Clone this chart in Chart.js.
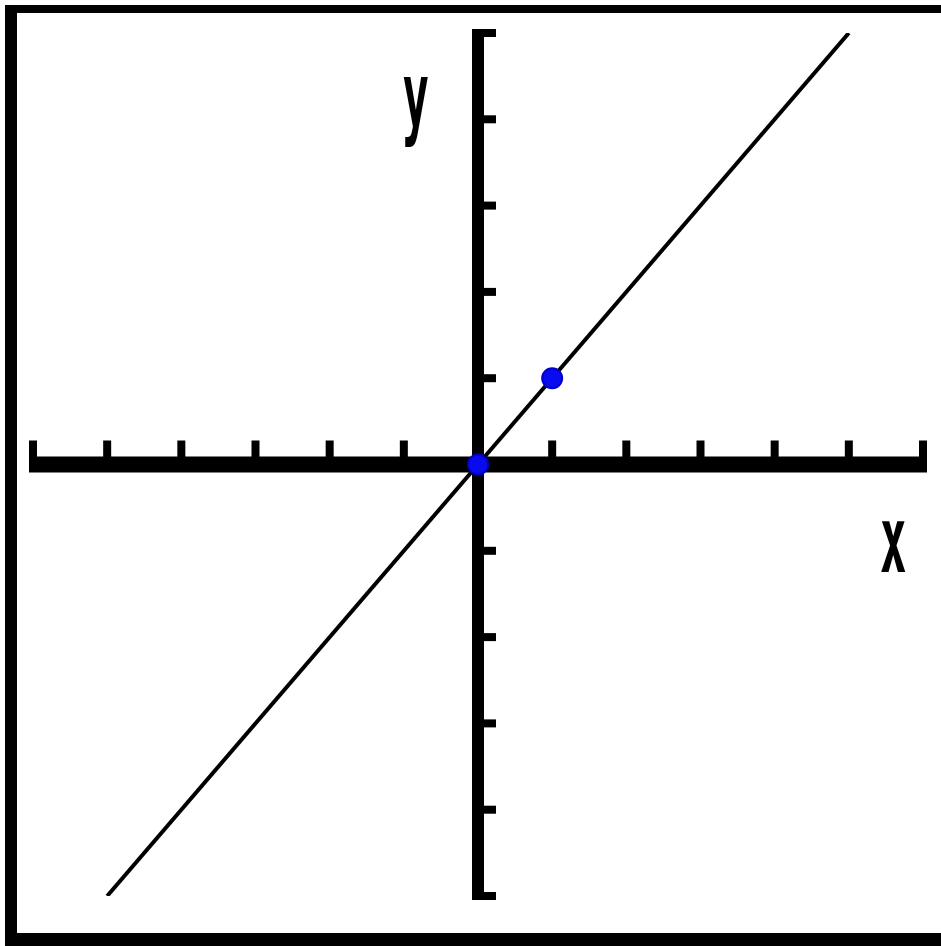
<!DOCTYPE html>
<html>
<head>
<meta charset="utf-8">
<script src="https://cdn.jsdelivr.net/npm/chart.js@4.4.1/dist/chart.umd.min.js"></script>
<style>
  html, body { margin: 0; padding: 0; background: #fff; }
  #wrap { position: relative; width: 941px; height: 946px; }
</style>
</head>
<body>
<div id="wrap"><canvas id="graph"></canvas></div>
<script>
// y = x, drawn from x = -5 to x = 5
const lineX = [-5, 5];
const lineY = [-5, 5];
// the two highlighted points
const dotX = [0, 1];
const dotY = [0, 1];
// tick positions on each axis
const xTicks = [-6, -5, -4, -3, -2, -1, 1, 2, 3, 4, 5, 6];
const yTicks = [-5, -4, -3, -2, -1, 1, 2, 3, 4, 5];
const axisNames = ['x', 'y'];

const axesPlugin = {
    id: 'calcAxes',
    beforeDatasetsDraw(chart) {
        const { ctx, scales: { x, y } } = chart;
        const ox = x.getPixelForValue(0);
        const oy = y.getPixelForValue(0);
        ctx.save();
        ctx.fillStyle = '#000';

        // frame of the calculator screen
        ctx.fillRect(5, 5, 936, 8);
        ctx.fillRect(5, 5, 12, 941);
        ctx.fillRect(5, 933, 936, 13);

        // x axis with ticks pointing up
        const xl = x.getPixelForValue(-6), xr = x.getPixelForValue(6);
        ctx.fillRect(xl - 4, oy - 8, xr - xl + 8, 16);
        xTicks.forEach(v => {
            const px = x.getPixelForValue(v);
            ctx.fillRect(px - 4, oy - 24, 8, 20);
        });

        // y axis with ticks pointing right
        const yt = y.getPixelForValue(5), yb = y.getPixelForValue(-5);
        ctx.fillRect(ox - 6, yt - 4, 12, yb - yt + 8);
        yTicks.forEach(v => {
            const py = y.getPixelForValue(v);
            ctx.fillRect(ox, py - 4, 18, 8);
        });

        // axis letters, tall and narrow like the calculator font
        ctx.font = 'bold 44px "DejaVu Sans Mono"';
        ctx.textAlign = 'center';
        ctx.textBaseline = 'alphabetic';
        const drawTall = (txt, px, py) => {
            ctx.save();
            ctx.translate(px, py);
            ctx.scale(1, 2.1);
            ctx.fillText(txt, 0, 0);
            ctx.restore();
        };
        drawTall(axisNames[0], x.getPixelForValue(5.6), y.getPixelForValue(-1.25));
        drawTall(axisNames[1], x.getPixelForValue(-0.84), y.getPixelForValue(3.9));
        ctx.restore();
    }
};

new Chart(document.getElementById('graph'), {
    type: 'scatter',
    data: {
        datasets: [
            {
                label: 'y = x',
                data: lineX.map((v, i) => ({ x: v, y: lineY[i] })),
                showLine: true,
                borderColor: '#000',
                borderWidth: 4,
                pointRadius: 0,
                order: 2
            },
            {
                label: 'points',
                data: dotX.map((v, i) => ({ x: v, y: dotY[i] })),
                backgroundColor: '#0a0af0',
                borderColor: '#0000c8',
                borderWidth: 2,
                pointRadius: 10,
                order: 1
            }
        ]
    },
    options: {
        responsive: true,
        maintainAspectRatio: false,
        animation: false,
        layout: { padding: { left: 33, right: 18, top: 33, bottom: 50 } },
        plugins: { legend: { display: false }, tooltip: { enabled: false } },
        scales: {
            x: { type: 'linear', min: -6, max: 6, display: false },
            y: { type: 'linear', min: -5, max: 5, display: false }
        }
    },
    plugins: [axesPlugin]
});
</script>
</body>
</html>
